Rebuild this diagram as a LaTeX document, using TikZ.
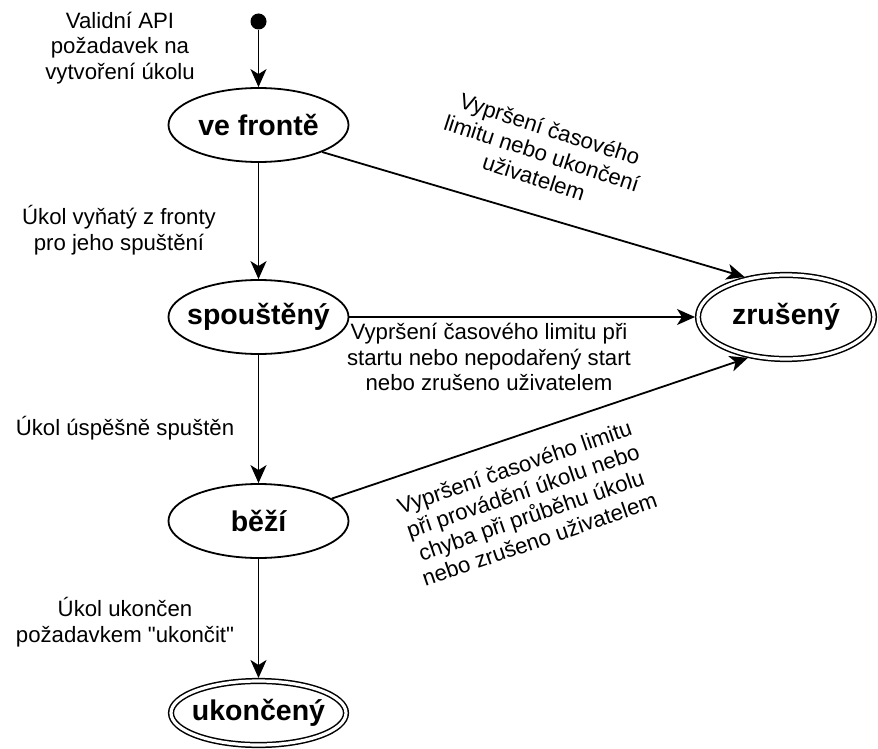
\documentclass[tikz,border=0pt]{standalone}
\usepackage{fontspec}
\setmainfont{Liberation Sans}
\newfontfamily\plainqfont{Liberation Sans}
\usetikzlibrary{arrows.meta,shapes.geometric}
\newcommand\zlbl[1]{\makebox[0pt]{#1}}
\newcommand\dq{{\plainqfont\symbol{34}}}
\begin{document}
\begin{tikzpicture}[x=1pt,y=-1pt,
  state/.style={ellipse, draw, line width=1.8pt, minimum width=180pt, minimum height=74pt, inner sep=0pt, font=\fontsize{28.5}{32}\selectfont\bfseries},
  final/.style={state, double, double distance=3.2pt, line width=1.5pt, outer sep=3pt},
  lbl/.style={align=center, font=\fontsize{22.2}{25.5}\selectfont, inner sep=0pt},
  arr/.style={line width=1.8pt, -{Stealth[length=18pt,width=16pt,inset=5pt]}}]
\useasboundingbox (0,0) rectangle (878,749);
\node[circle, fill=black, minimum size=16pt, inner sep=0pt] (init) at (258.5,21.5) {};
\node[state] (vf) at (258.5,125) {\zlbl{ve frontě}};
\node[state] (sp) at (258.5,317) {\zlbl{spouštěný}};
\node[state] (bz) at (258.5,521) {\zlbl{běží}};
\node[final, minimum width=175pt, minimum height=64pt] (uk) at (258.5,713) {\zlbl{ukončený}};
\node[final, minimum width=176pt, minimum height=84pt] (zr) at (786,317) {\zlbl{zrušený}};

\draw[arr] (init) -- (vf);
\draw[arr] (vf) -- (sp);
\draw[arr] (sp) -- (bz);
\draw[arr] (bz) -- (uk);
\draw[arr] (vf.-23) -- (zr.136);
\draw[arr] (sp.east) -- (zr.west);
\draw[arr] (bz.17) -- (zr.-133);

\node[lbl] (l1) at (120,48) {Validní API\\požadavek na\\vytvoření úkolu};
\node[lbl] (l2) at (119,230) {Úkol vyňatý z fronty\\pro jeho spuštění};
\node[lbl] (l3) at (125,428) {Úkol úspěšně spuštěn};
\node[lbl] (l4) at (125,622) {Úkol ukončen\\požadavkem \dq ukončit\dq};
\node[lbl] (l5) at (489,357) {Vypršení časového limitu při\\startu nebo nepodařený start\\nebo zrušeno uživatelem};
\node[lbl, rotate=-18] (l6) at (542,153) {Vypršení časového\\limitu nebo ukončení\\uživatelem};
\node[lbl, rotate=19] (l7) at (527,503) {Vypršení časového limitu\\při provádění úkolu nebo\\chyba při průběhu úkolu\\nebo zrušeno uživatelem};
\end{tikzpicture}
\end{document}
